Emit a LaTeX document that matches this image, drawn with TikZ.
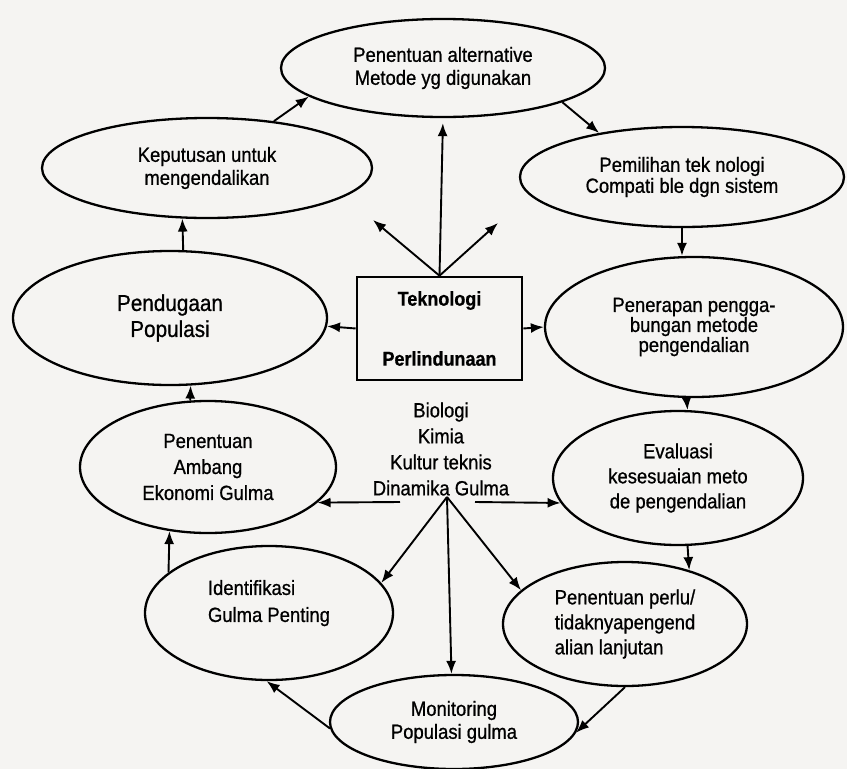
\documentclass[tikz,border=0pt]{standalone}
\usepackage{fontspec}
\setmainfont{Liberation Sans}[FakeStretch=0.9, FakeBold=0.8]
\usetikzlibrary{shapes.geometric,arrows.meta}
\definecolor{paper}{RGB}{245,244,242}
\tikzset{
    blob/.style={draw, ellipse, line width=2.3pt, inner sep=0pt, align=center,
        font=\fontsize{20.5}{23}\selectfont},
    arr/.style={line width=1.9pt, -{Latex[length=13pt,width=10pt]}}
}

\begin{document}
\begin{tikzpicture}[x=1pt,y=-1pt]
        \fill[paper] (0,0) rectangle (847,769);
        \useasboundingbox (0,0) rectangle (847,769);

        \node[blob, minimum width=324, minimum height=98] (alt) at (443,68) {Penentuan alternative\\Metode yg digunakan};
        \node[blob, minimum width=330, minimum height=100] (keput) at (207,168) {Keputusan untuk\\mengendalikan};
        \node[blob, minimum width=324, minimum height=100, font=\fontsize{20.5}{21}\selectfont] (pilih) at (682,177) {Pemilihan tek nologi\\Compati ble dgn sistem};
        \node[blob, minimum width=314, minimum height=134, font=\fontsize{23}{26}\selectfont] (duga) at (170,318) {Pendugaan\\Populasi};
        \node[draw, line width=2.6pt, minimum width=165, minimum height=103, inner sep=0pt, align=center,
            font=\fontsize{20}{60}\selectfont\bfseries] (tekno) at (439.5,328.5) {Teknologi\\Perlindunaan};
        \node[blob, minimum width=298, minimum height=140, font=\fontsize{20.5}{20}\selectfont] (terap) at (694,327) {Penerapan pengga-\\bungan metode\\pengendalian};
        \node[blob, minimum width=256, minimum height=132, font=\fontsize{20.5}{26}\selectfont] (ambang) at (208,467) {Penentuan\\Ambang\\Ekonomi Gulma};
        \node[inner sep=0pt, align=center, font=\fontsize{20.5}{26}\selectfont] (ilmu) at (441,449) {Biologi\\Kimia\\Kultur teknis\\Dinamika Gulma};
        \node[blob, minimum width=250, minimum height=134, font=\fontsize{20.5}{25}\selectfont] (eval) at (678,478) {Evaluasi\\kesesuaian meto\\de pengendalian};
        \node[blob, minimum width=248, minimum height=134, align=left, font=\fontsize{20.5}{27}\selectfont] (ident) at (269,613) {Identifikasi\\Gulma Penting\rule[-24pt]{0pt}{0pt}};
        \node[blob, minimum width=244, minimum height=124, align=left, font=\fontsize{20.5}{25}\selectfont] (perlu) at (625,624) {Penentuan perlu/\\tidaknyapengend\\alian lanjutan};
        \node[blob, minimum width=248, minimum height=94] (monit) at (454,722) {Monitoring\\Populasi gulma};

        \coordinate (diagL) at (373,220);
        \coordinate (diagR) at (498,223);
        \coordinate (ilmuL) at (400,502);
        \coordinate (ilmuR) at (475,502);
        \coordinate (ilmuD) at (447,497);

        \draw[arr] (keput.35) -- (alt.192);
        \draw[arr] (alt.-16) -- (pilih.152);
        \draw[arr] (pilih.south) -- (pilih.south |- terap.north);
        \draw[arr] (terap.-96) -- (eval.82);
        \draw[arr] (eval.-82) -- (perlu.40);
        \draw[arr] (perlu.south) -- (monit.-5);
        \draw[arr] (monit.183) -- (ident.-92);
        \draw[arr] (ident.158) -- (ambang.-121);
        \draw[arr] (ambang.105) -- (duga.-73);
        \draw[arr] (duga.79) -- (keput.-116);

        \draw[arr, shorten >=5pt] (tekno.north) -- (alt.south);
        \draw[arr] (tekno.north) -- (diagL);
        \draw[arr] (tekno.north) -- (diagR);
        \draw[arr] (tekno.west) -- (duga.-3);
        \draw[arr] (tekno.east) -- (terap.west);

        \draw[arr] (ilmuL) -- (ambang.-18);
        \draw[arr] (ilmuR) -- (eval.192);
        \draw[arr] (ilmuD) -- (ident.15);
        \draw[arr] (ilmuD) -- (monit.93);
        \draw[arr] (ilmuD) -- (perlu.162);
\end{tikzpicture}
\end{document}
